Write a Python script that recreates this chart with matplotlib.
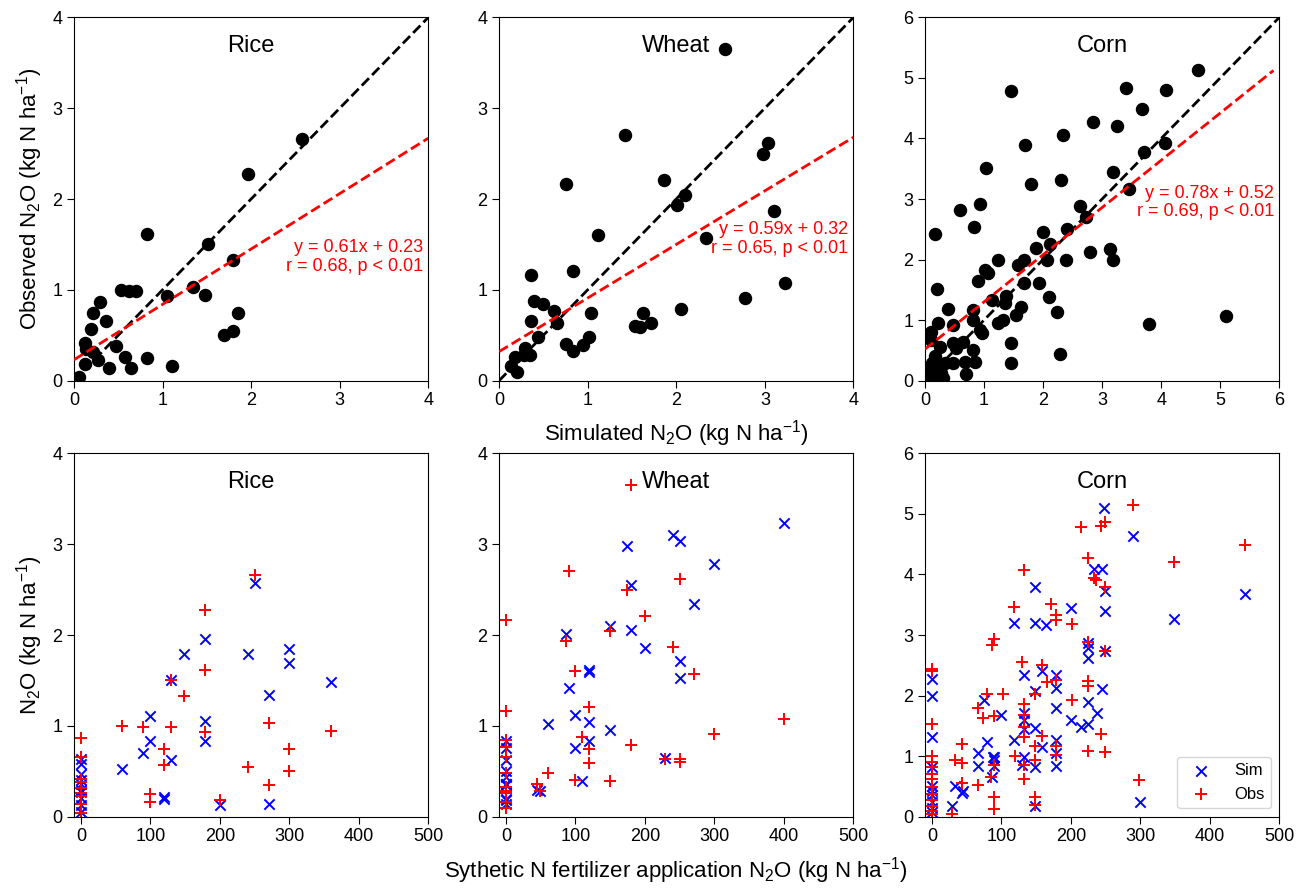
import numpy as np
import matplotlib
matplotlib.use('agg')
from matplotlib import pyplot as plt

plt.rcParams['font.family'] = 'Liberation Sans'
plt.rcParams['mathtext.fontset'] = 'custom'
plt.rcParams['mathtext.rm'] = 'Liberation Sans'
plt.rcParams['mathtext.it'] = 'Liberation Sans:italic'
plt.rcParams['mathtext.bf'] = 'Liberation Sans:bold'

crops = ['Rice', 'Wheat', 'Corn']

# rice sites: N fertilizer rate, simulated and observed N2O
rice_fert = [0, 0, 0, 0, 0, 0, 0, 0, 0, 0,
             59, 89, 100, 100, 120, 120, 130, 130, 149, 179,
             179, 179, 200, 240, 250, 270, 270, 300, 300, 360]
rice_sim = [0.056, 0.125, 0.21, 0.27, 0.29, 0.36, 0.40, 0.47, 0.58, 0.64,
            0.53, 0.70, 0.83, 1.11, 0.22, 0.19, 0.62, 1.51, 1.79, 1.96,
            0.83, 1.05, 0.13, 1.79, 2.57, 1.34, 0.14, 1.85, 1.69, 1.48]
rice_obs = [0.044, 0.42, 0.32, 0.23, 0.87, 0.66, 0.14, 0.38, 0.26, 0.14,
            1.00, 0.99, 0.25, 0.16, 0.74, 0.57, 0.99, 1.51, 1.33, 2.27,
            1.61, 0.93, 0.18, 0.55, 2.66, 1.03, 0.35, 0.74, 0.50, 0.94]

# wheat sites
wheat_fert = [0, 0, 0, 0, 0, 0, 0, 0, 0, 0, 0,
              44, 49, 60, 87, 90, 100, 100, 110, 120, 120,
              120, 120, 150, 150, 174, 180, 180, 200, 229, 241,
              250, 250, 250, 270, 300, 400]
wheat_sim = [0.76, 0.36, 0.50, 0.62, 0.36, 0.44, 0.83, 0.35, 0.18, 0.14, 0.20,
             0.29, 0.28, 1.02, 2.01, 1.42, 1.12, 0.76, 0.39, 0.83, 1.04,
             1.59, 1.62, 2.10, 0.95, 2.98, 2.55, 2.05, 1.86, 0.65, 3.10,
             3.04, 1.71, 1.53, 2.34, 2.78, 3.23]
wheat_obs = [2.17, 1.16, 0.84, 0.77, 0.66, 0.48, 0.33, 0.28, 0.26, 0.16, 0.10,
             0.36, 0.28, 0.48, 1.93, 2.70, 1.60, 0.40, 0.88, 1.21, 0.74,
             0.59, 0.74, 2.04, 0.39, 2.50, 3.65, 0.79, 2.21, 0.64, 1.87,
             2.62, 0.63, 0.60, 1.57, 0.91, 1.08]

# corn: simulated vs observed pairs
corn_sim = [4.62, 1.46, 3.40, 4.08, 3.67, 2.85, 3.25, 2.33, 1.70, 4.07,
            3.71, 1.03, 2.31, 3.18, 1.80, 3.45, 0.59, 0.94, 2.62, 2.72,
            0.17, 0.83, 2.00, 2.41, 2.11, 1.88, 2.79, 3.13, 3.18, 2.39,
            2.07, 1.24, 1.68, 1.58, 1.01, 1.07, 0.89, 1.68, 1.93, 0.20,
            2.10, 1.14, 1.38, 1.35, 2.23, 0.39, 1.62, 1.54, 0.82, 0.81,
            1.24, 1.32, 0.48, 0.22, 0.96, 0.93, 0.11, 0.11, 0.25, 0.48,
            0.65, 0.53, 0.82, 1.46, 0.17, 0.68, 0.84, 0.48, 2.28, 1.45,
            3.79, 5.10, 0.70, 0.34, 0.25, 0.05, 0.10, 0.15, 0.20, 0.28,
            0.08, 0.30, 0.12]
corn_obs = [5.13, 4.79, 4.84, 4.80, 4.49, 4.27, 4.21, 4.05, 3.89, 3.92,
            3.78, 3.51, 3.31, 3.44, 3.24, 3.17, 2.82, 2.91, 2.89, 2.71,
            2.42, 2.53, 2.45, 2.51, 2.25, 2.19, 2.13, 2.18, 2.00, 1.99,
            1.99, 1.99, 2.00, 1.91, 1.83, 1.78, 1.65, 1.61, 1.61, 1.52,
            1.38, 1.33, 1.40, 1.28, 1.14, 1.18, 1.21, 1.08, 1.16, 1.01,
            0.96, 1.00, 0.92, 0.95, 0.78, 0.84, 0.81, 0.68, 0.56, 0.62,
            0.64, 0.54, 0.50, 0.62, 0.41, 0.31, 0.31, 0.30, 0.44, 0.30,
            0.93, 1.07, 0.11, 0.30, 0.18, 0.05, 0.12, 0.03, 0.08, 0.12,
            0.20, 0.05, 0.30]

# corn: simulated N2O against fertilizer rate
corn_fert_s = [0, 0, 0, 0, 0, 0, 0, 0, 0, 0,
               29, 33, 43, 45, 67, 67, 75, 80, 88, 90,
               89, 90, 87, 100, 118, 118, 130, 133, 133, 133,
               133, 133, 149, 149, 149, 149, 149, 149, 159, 164,
               159, 178, 178, 178, 178, 178, 178, 200, 200, 214,
               224, 224, 224, 224, 224, 233, 245, 238, 245, 248,
               249, 249, 249, 289, 299, 348, 450]
corn_sim_f = [2.28, 2.00, 1.32, 0.82, 0.51, 0.43, 0.35, 0.24, 0.15, 0.07,
              0.18, 0.51, 0.39, 0.42, 1.05, 0.83, 1.93, 1.24, 0.99, 0.99,
              0.93, 0.83, 0.66, 1.68, 3.20, 1.27, 0.85, 2.34, 1.71, 1.60,
              1.44, 0.99, 3.80, 3.20, 2.07, 1.46, 0.82, 0.17, 2.40, 3.17,
              1.15, 2.34, 2.12, 1.79, 1.27, 1.05, 0.83, 3.44, 1.59, 1.48,
              2.87, 2.79, 2.62, 1.89, 1.53, 4.09, 4.09, 1.71, 2.11, 5.10,
              3.72, 3.40, 2.73, 4.63, 0.25, 3.26, 3.67]

# corn: observed N2O against fertilizer rate
corn_fert_o = [0, 0, 0, 0, 0, 0, 0, 0, 0, 0, 0, 0, 0, 0,
               29, 33, 44, 44, 44, 67, 67, 74, 79, 86,
               89, 85, 90, 90, 90, 90, 102, 118, 119, 129,
               133, 133, 133, 133, 133, 133, 133, 149, 149, 149,
               149, 149, 159, 159, 166, 172, 178, 178, 178, 178,
               178, 201, 201, 215, 224, 224, 224, 224, 224, 233,
               236, 243, 249, 249, 249, 244, 249, 289, 298, 348, 450]
corn_obs_f = [2.44, 2.41, 1.53, 1.00, 0.90, 0.82, 0.71, 0.62, 0.49, 0.38, 0.27, 0.18, 0.10, 0.04,
              0.05, 0.94, 1.20, 0.88, 0.55, 0.52, 1.80, 1.63, 2.02, 2.84,
              2.93, 0.66, 0.85, 0.33, 0.12, 1.66, 2.02, 3.46, 1.00, 2.55,
              4.07, 1.86, 1.68, 1.48, 1.31, 0.85, 0.63, 2.02, 1.16, 0.94,
              0.32, 0.20, 2.51, 1.34, 2.22, 3.51, 3.33, 3.25, 2.26, 1.17,
              1.02, 3.18, 1.93, 4.78, 4.27, 2.89, 2.24, 2.15, 1.09, 3.94,
              3.91, 4.80, 4.86, 3.80, 2.73, 1.37, 1.06, 5.14, 0.61, 4.21, 4.49]

# reported regression of observed on simulated
fit_slope = [0.61, 0.59, 0.78]
fit_icpt = [0.23, 0.32, 0.52]
fit_r = [0.68, 0.65, 0.69]

top_xy = [(rice_sim, rice_obs), (wheat_sim, wheat_obs), (corn_sim, corn_obs)]
bottom_sim = [(rice_fert, rice_sim), (wheat_fert, wheat_sim), (corn_fert_s, corn_sim_f)]
bottom_obs = [(rice_fert, rice_obs), (wheat_fert, wheat_obs), (corn_fert_o, corn_obs_f)]
axis_max = [4, 4, 6]
fit_end = [4, 4, 5.9]
text_y = [0.34, 0.39, 0.49]

fig = plt.figure(figsize=(13.02, 8.88), dpi=100)
lefts = [0.0568, 0.3833, 0.7104]
w, h = 0.2722, 0.4092

for i, crop in enumerate(crops):
    lim = axis_max[i]

    # top: simulated vs observed
    ax = fig.add_axes([lefts[i], 0.5713, w, h])
    sx, oy = top_xy[i]
    ax.scatter(sx, oy, s=75, c='black', zorder=2)
    ax.plot([0, lim], [0, lim], 'k--', lw=2, zorder=3)
    xf = np.array([0, fit_end[i]])
    ax.plot(xf, fit_slope[i] * xf + fit_icpt[i], '--', color='red', lw=2, zorder=3)
    ax.text(0.985, text_y[i],
            f'y = {fit_slope[i]:.2f}x + {fit_icpt[i]:.2f}\nr = {fit_r[i]:.2f}, p < 0.01',
            transform=ax.transAxes, ha='right', va='center', color='red',
            fontsize=13, linespacing=1.1)
    ax.text(0.5, 0.92, crop, transform=ax.transAxes, ha='center', va='center', fontsize=17)
    ax.set_xlim(0, lim)
    ax.set_ylim(0, lim)
    ax.set_xticks(range(lim + 1))
    ax.set_yticks(range(lim + 1))
    ax.tick_params(labelsize=13, length=5)
    if i == 0:
        ax.set_ylabel('Observed N$_2$O (kg N ha$^{-1}$)', fontsize=16, labelpad=5)
    if i == 1:
        ax.set_xlabel('Simulated N$_2$O (kg N ha$^{-1}$)', fontsize=16, labelpad=6)

    # bottom: N2O against fertilizer rate
    ax2 = fig.add_axes([lefts[i], 0.0803, w, h])
    fs, vs = bottom_sim[i]
    fo, vo = bottom_obs[i]
    ax2.scatter(fs, vs, marker='x', s=55, c='blue', linewidths=1.4, label='Sim')
    ax2.scatter(fo, vo, marker='+', s=65, c='red', linewidths=1.4, label='Obs')
    ax2.text(0.5, 0.92, crop, transform=ax2.transAxes, ha='center', va='center', fontsize=17)
    ax2.set_xlim(-10, 500)
    ax2.set_ylim(0, lim)
    ax2.set_xticks(range(0, 501, 100))
    ax2.set_yticks(range(lim + 1))
    ax2.tick_params(labelsize=13, length=5)
    if i == 0:
        ax2.set_ylabel('N$_2$O (kg N ha$^{-1}$)', fontsize=16, labelpad=5)
    if i == 1:
        ax2.set_xlabel('Sythetic N fertilizer application N$_2$O (kg N ha$^{-1}$)',
                       fontsize=16, labelpad=7)
    if i == 2:
        ax2.legend(loc='lower right', fontsize=12, handletextpad=1.0)

fig.savefig('out.png', dpi=100)
